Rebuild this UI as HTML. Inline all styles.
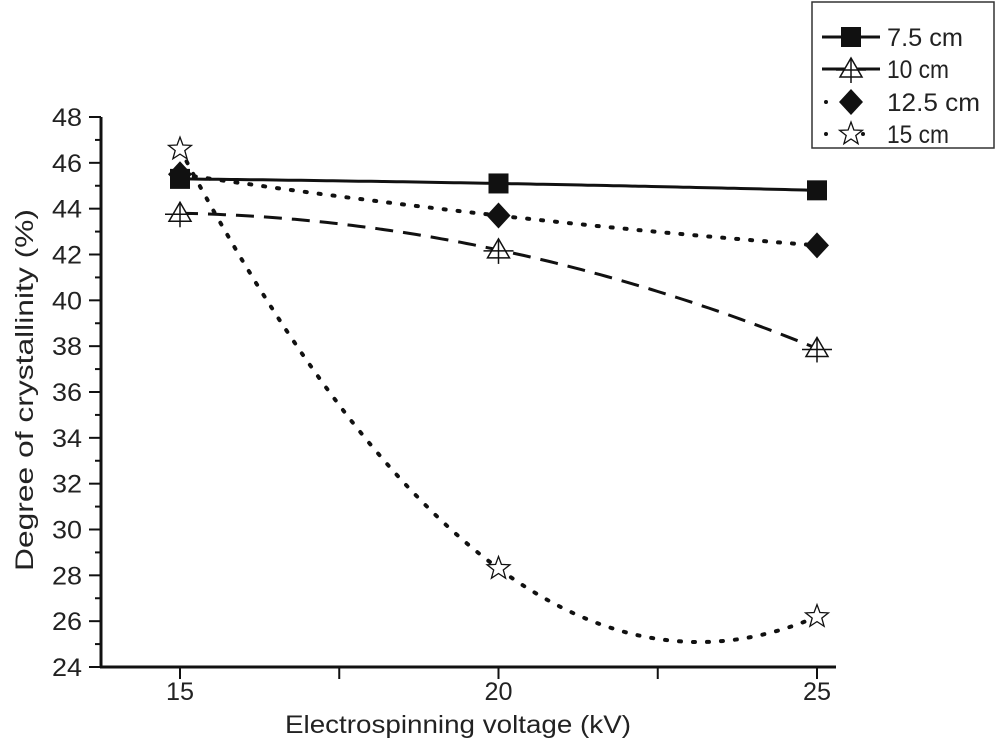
<!DOCTYPE html>
<html><head><meta charset="utf-8"><style>
body{margin:0;background:#fff;}
svg{display:block;font-family:"Liberation Sans",Arial,sans-serif;}
</style></head><body>
<svg id="chart" width="1000" height="756" viewBox="0 0 1000 756" xmlns="http://www.w3.org/2000/svg"></svg>
<script>
const xCats = [15, 20, 25];
const s75 = [45.3, 45.1, 44.8];
const s10 = [43.8, 42.2, 37.9];
const s125 = [45.5, 43.7, 42.4];
const s15 = [46.6, 28.3, 26.2];
const yTicks = [24, 26, 28, 30, 32, 34, 36, 38, 40, 42, 44, 46, 48];
const xTicks = [15, 20, 25];
const seriesNames = ["7.5 cm", "10 cm", "12.5 cm", "15 cm"];

const NS = "http://www.w3.org/2000/svg";
const svg = document.getElementById("chart");
const X = v => 180 + (v - 15) * (817 - 180) / 10;
const Y = v => 667 - (v - 24) * (667 - 117) / 24;
function mk(tag, attrs, parent) {
  const e = document.createElementNS(NS, tag);
  for (const k in attrs) e.setAttribute(k, attrs[k]);
  (parent || svg).appendChild(e);
  return e;
}
const axes = mk("g", {});


mk("line", {x1: 101, y1: 117, x2: 101, y2: 668, stroke: "#111", "stroke-width": 3}, axes);
mk("line", {x1: 100, y1: 667, x2: 836, y2: 667, stroke: "#111", "stroke-width": 3}, axes);
for (let v = 24; v <= 48; v++) {
  const major = v % 2 === 0;
  mk("line", {x1: major ? 89 : 95, y1: Y(v), x2: 101, y2: Y(v), stroke: "#111", "stroke-width": 2}, axes);
}
yTicks.forEach(v => {
  const t = mk("text", {x: 82, y: Y(v) + 9, "text-anchor": "end", "font-size": 25, fill: "#222", textLength: 30, lengthAdjust: "spacingAndGlyphs"}, axes);
  t.textContent = v;
  
  
});
[15, 17.5, 20, 22.5, 25].forEach(v => {
  mk("line", {x1: X(v), y1: 667, x2: X(v), y2: 679, stroke: "#111", "stroke-width": 2}, axes);
});
xTicks.forEach(v => {
  const t = mk("text", {x: X(v), y: 700, "text-anchor": "middle", "font-size": 25, fill: "#222", textLength: 28, lengthAdjust: "spacingAndGlyphs"}, axes);
  t.textContent = v;
  
  
});
const xt = mk("text", {x: 458, y: 733, "text-anchor": "middle", "font-size": 25, fill: "#222", textLength: 346, lengthAdjust: "spacingAndGlyphs"});
xt.textContent = "Electrospinning voltage (kV)";


const yt = mk("text", {x: 0, y: 0, "text-anchor": "middle", "font-size": 25, fill: "#222", textLength: 362, lengthAdjust: "spacingAndGlyphs", transform: "translate(33,390) rotate(-90)"});
yt.textContent = "Degree of crystallinity (%)";



function curve(vals) {
  const [a, b, c] = vals;
  const A = (a - 2 * b + c) / 50, B = (c - a) / 10;
  let d = "";
  for (let i = 0; i <= 100; i++) {
    const x = 15 + i / 10;
    const dx = x - 20;
    const y = b + B * dx + A * dx * dx;
    d += (i ? "L" : "M") + X(x).toFixed(1) + " " + Y(y).toFixed(1);
  }
  return d;
}
function marker(type, cx, cy, g) {
  if (type === 0) mk("rect", {x: cx - 10, y: cy - 10, width: 20, height: 20, fill: "#111"}, g);
  else if (type === 1) {
    mk("path", {d: `M${cx} ${cy-11}L${cx+11} ${cy+8}L${cx-11} ${cy+8}Z`, fill: "#fff", stroke: "#111", "stroke-width": 1.5}, g);
    mk("line", {x1: cx, y1: cy - 11, x2: cx, y2: cy + 14, stroke: "#111", "stroke-width": 1.5}, g);
    mk("line", {x1: cx - 15, y1: cy + 1, x2: cx + 15, y2: cy + 1, stroke: "#111", "stroke-width": 1.5}, g);
  } else if (type === 2) mk("path", {d: `M${cx} ${cy-13}L${cx+12} ${cy}L${cx} ${cy+13}L${cx-12} ${cy}Z`, fill: "#111"}, g);
  else {
    let d = "";
    for (let i = 0; i < 10; i++) {
      const r = i % 2 ? 5 : 12, an = -Math.PI / 2 + i * Math.PI / 5;
      d += (i ? "L" : "M") + (cx + r * Math.cos(an)).toFixed(1) + " " + (cy + r * Math.sin(an)).toFixed(1);
    }
    mk("path", {d: d + "Z", fill: "#fff", stroke: "#111", "stroke-width": 1.3}, g);
  }
}
const allSeries = [s75, s10, s125, s15];
const dashes = ["", "18 10", "2 12", "2 12"];
const widths = [3, 3, 4, 4];
allSeries.forEach((vals, si) => {
  const g = mk("g", {});
  
  
  const p = mk("path", {d: curve(vals), fill: "none", stroke: "#111", "stroke-width": widths[si], "stroke-dasharray": dashes[si], "stroke-linecap": si >= 2 ? "round" : "butt"}, g);
  
  
  vals.forEach((v, i) => marker(si, X(xCats[i]), Y(v), g));
});

const lg = mk("g", {});


mk("rect", {x: 812, y: 2, width: 182, height: 146, fill: "#fff", stroke: "#333", "stroke-width": 1.5}, lg);
const ly = [37, 69, 102, 134];
const lw = [76, 62, 93, 62];
seriesNames.forEach((n, i) => {
  const e = mk("g", {}, lg);
  
  
  if (i < 2) mk("line", {x1: 822, y1: ly[i], x2: 880, y2: ly[i], stroke: "#111", "stroke-width": 3}, e);
  else mk("circle", {cx: 826, cy: ly[i], r: 2, fill: "#111"}, e);
  if (i === 3) mk("circle", {cx: 863, cy: ly[i], r: 2, fill: "#111"}, e);
  marker(i, 851, ly[i], e);
  const t = mk("text", {x: 887, y: ly[i] + 9, "font-size": 25, fill: "#222", textLength: lw[i], lengthAdjust: "spacingAndGlyphs"}, e);
  t.textContent = n;
});
</script>
</body></html>
